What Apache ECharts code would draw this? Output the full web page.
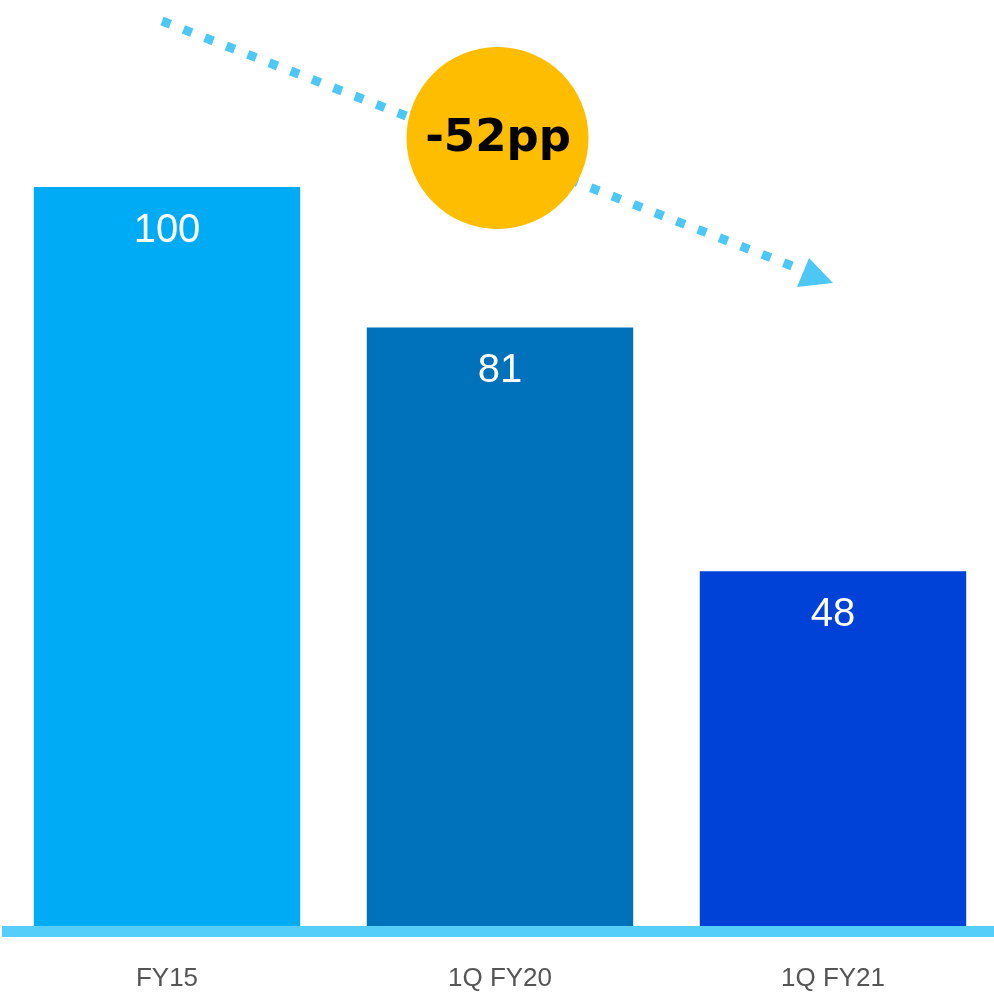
<!DOCTYPE html>
<html>
<head>
<meta charset="utf-8">
<style>
  html, body { margin: 0; padding: 0; background: #ffffff; }
  #chart { width: 994px; height: 1001px; }
</style>
<script src="https://cdn.jsdelivr.net/npm/echarts@6/dist/echarts.min.js"></script>
</head>
<body>
<div id="chart"></div>
<script>
// Index values (FY15 = 100)
const categories = ['FY15', '1Q FY20', '1Q FY21'];
const values = [100, 81, 48];
const barColors = ['#00abf6', '#0072bb', '#0041d7'];

const chart = echarts.init(document.getElementById('chart'), null, { renderer: 'canvas' });

// Change from first to last period, shown in the badge
const change = values[values.length - 1] - values[0];
const badgeText = (change > 0 ? '+' : '') + change + 'pp';

const trendColor = '#4cc7f6';

const option = {
  animation: false,
  backgroundColor: '#ffffff',
  grid: {
    left: 0.5, width: 999, top: 187, bottom: 75,
    containLabel: false, outerBoundsMode: 'none'
  },
  xAxis: {
    type: 'category',
    data: categories,
    axisLine: { show: false },
    axisTick: { show: false },
    axisLabel: {
      color: '#555555',
      fontSize: 26,
      fontFamily: '"Liberation Sans Narrow", "Liberation Sans", sans-serif',
      margin: 40
    }
  },
  yAxis: {
    type: 'value',
    min: 0,
    max: 100,
    show: false,
    splitLine: { show: false }
  },
  series: [{
    type: 'bar',
    data: values.map((v, i) => ({ value: v, itemStyle: { color: barColors[i] } })),
    barWidth: '80%',
    label: {
      show: true,
      position: 'insideTop',
      distance: 24,
      color: '#ffffff',
      fontSize: 40,
      fontFamily: '"Liberation Sans Narrow", "Liberation Sans", sans-serif'
    }
  }]
};

chart.setOption(option);

// Baseline strip sits just below the zero line of the value axis
const zeroY = chart.convertToPixel({ yAxisIndex: 0 }, 0);

chart.setOption({
  graphic: [
    {
      type: 'rect',
      z: 5,
      shape: { x: 2, y: zeroY, width: 992, height: 11 },
      style: { fill: '#55cffa' }
    },
    // dotted trend arrow
    {
      type: 'line',
      z: 10,
      shape: { x1: 162, y1: 21, x2: 792, y2: 266 },
      style: { stroke: trendColor, lineWidth: 9, lineDash: [9, 14], lineCap: 'butt' }
    },
    {
      type: 'polygon',
      z: 10,
      shape: { points: [[809, 258], [797, 287], [833, 283]] },
      style: { fill: trendColor }
    },
    // change badge
    {
      type: 'circle',
      z: 11,
      shape: { cx: 497.5, cy: 138, r: 91 },
      style: { fill: '#ffbd00' }
    },
    {
      type: 'text',
      z: 12,
      x: 498,
      y: 139,
      style: {
        text: badgeText,
        fill: '#000000',
        font: 'bold 45px "DejaVu Sans", sans-serif',
        align: 'center',
        verticalAlign: 'middle'
      }
    }
  ]
});
</script>
</body>
</html>
